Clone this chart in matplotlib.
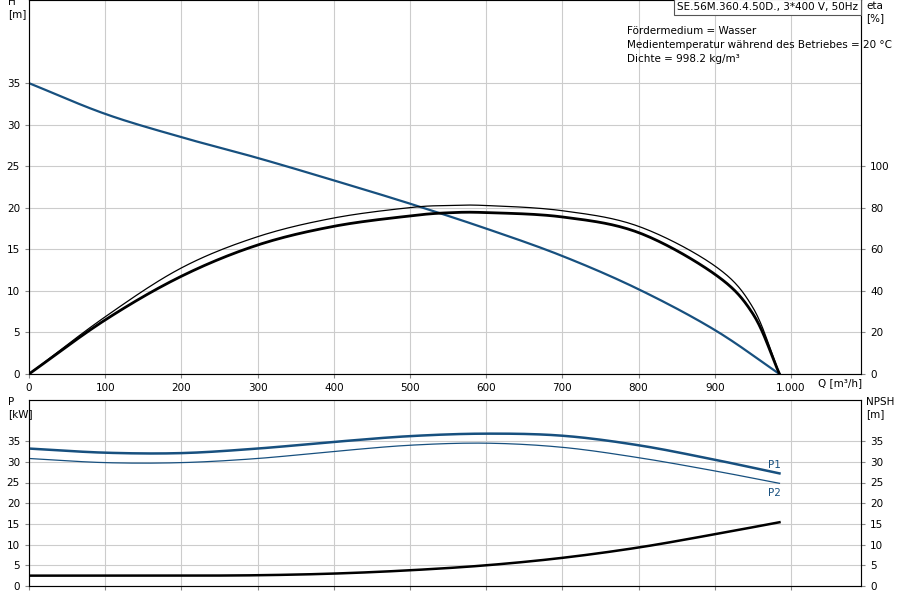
import matplotlib
matplotlib.use("Agg")
import matplotlib.pyplot as plt
import numpy as np

q_h = [0, 100, 200, 300, 400, 500, 600, 700, 800, 900, 985]
h = [35, 31.3, 28.5, 26, 23.3, 20.5, 17.5, 14.2, 10.2, 5.3, 0]
q_eta = [0, 100, 200, 300, 400, 500, 550, 600, 700, 800, 900, 950, 985]
eta_tot = [0, 26, 47, 62, 71, 76, 77.5, 77.6, 75.5, 68, 48, 29, 0]
eta_pump = [0, 27.5, 51, 66, 75, 80, 81, 81, 78.5, 71, 52, 32, 0]
q_p = [0, 100, 200, 300, 400, 500, 600, 700, 800, 900, 985]
p1 = [33.2, 32.2, 32.1, 33.2, 34.8, 36.2, 36.8, 36.3, 34.0, 30.5, 27.2]
p2 = [30.8, 29.8, 29.8, 30.8, 32.5, 34.0, 34.5, 33.5, 31.0, 27.8, 24.8]
q_n = [0, 100, 200, 300, 400, 500, 600, 700, 800, 900, 985]
npsh = [2.5, 2.5, 2.5, 2.6, 3.0, 3.8, 5.0, 6.8, 9.3, 12.5, 15.4]

def smooth(x, y, n=20):
    x = np.asarray(x, float); y = np.asarray(y, float)
    P = np.column_stack([x, y])
    P = np.vstack([2*P[0]-P[1], P, 2*P[-1]-P[-2]])
    out = []
    t = np.linspace(0, 1, n, endpoint=False)[:, None]
    for i in range(1, len(P)-2):
        p0, p1_, p2_, p3 = P[i-1], P[i], P[i+1], P[i+2]
        seg = 0.5*((2*p1_) + (-p0+p2_)*t + (2*p0-5*p1_+4*p2_-p3)*t**2 + (-p0+3*p1_-3*p2_+p3)*t**3)
        out.append(seg)
    out.append(P[-2][None, :])
    o = np.vstack(out)
    return o[:, 0], o[:, 1]

blue = "#17507f"
fs = 7.5
fig = plt.figure(figsize=(9, 6), dpi=100)
ax1 = fig.add_axes([29/900, 1-374/600, 832/900, 374/600])
ax2 = fig.add_axes([29/900, 1-586/600, 832/900, 186/600])

for ax in (ax1, ax2):
    ax.set_xlim(0, 1092)
    ax.set_xticks(range(0, 1001, 100))
    ax.grid(True, color="#cccccc", lw=0.8)
    ax.tick_params(labelsize=fs, length=3, color="#888888")
    for s in ax.spines.values():
        s.set_color("#888888")

ax1.set_ylim(0, 374/8.31)
ax1.set_yticks(range(0, 36, 5))
ax1.set_xticklabels(["0", "100", "200", "300", "400", "500", "600", "700", "800", "900", "1.000"])
ax1e = ax1.twinx()
ax1e.set_ylim(0, 374/2.08)
ax1e.set_yticks(range(0, 101, 20))
ax1e.tick_params(labelsize=fs, length=3, color="#888888")
ax1e.set_zorder(ax1.get_zorder() + 1)

x, y = smooth(q_h, h); ax1.plot(x, y, color=blue, lw=1.6)
x, y = smooth(q_eta, eta_tot); ax1e.plot(x, y, color="black", lw=2)
x, y = smooth(q_eta, eta_pump); ax1e.plot(x, y, color="black", lw=0.9)

ax2.set_ylim(0, 186/4.14)
ax2.set_yticks(range(0, 36, 5))
ax2.set_xticklabels([])
ax2n = ax2.twinx()
ax2n.set_ylim(0, 186/4.14)
ax2n.set_yticks(range(0, 36, 5))
ax2n.tick_params(labelsize=fs, length=3, color="#888888")
x, y = smooth(q_p, p1); ax2.plot(x, y, color=blue, lw=1.8)
x, y = smooth(q_p, p2); ax2.plot(x, y, color=blue, lw=0.9)
x, y = smooth(q_n, npsh); ax2n.plot(x, y, color="black", lw=1.8)
ax2.text(q_p[-1]-15, p1[-1]+0.8, "P1", fontsize=fs, color=blue, ha="left", va="bottom")
ax2.text(q_p[-1]-15, p2[-1]-1.2, "P2", fontsize=fs, color=blue, ha="left", va="top")

fig.text(8/900, 1-8/600, "H\n[m]", fontsize=fs, va="center", ha="left", linespacing=1.3)
fig.text(866/900, 1-12/600, "eta\n[%]", fontsize=fs, va="center", ha="left", linespacing=1.3)
fig.text(818/900, 1-383/600, "Q [m³/h]", fontsize=fs, va="center", ha="left")
fig.text(8/900, 1-408/600, "P\n[kW]", fontsize=fs, va="center", ha="left", linespacing=1.3)
fig.text(866/900, 1-408/600, "NPSH\n[m]", fontsize=fs, va="center", ha="left", linespacing=1.3)
fig.text(627/900, 1-45/600, "Fördermedium = Wasser\nMedientemperatur während des Betriebes = 20 °C\nDichte = 998.2 kg/m³",
         fontsize=fs, va="center", ha="left", linespacing=1.5)
fig.text(858/900, 1-7/600, "SE.56M.360.4.50D., 3*400 V, 50Hz", fontsize=fs, ha="right", va="center",
         bbox=dict(boxstyle="square,pad=0.3", fc="white", ec="#555555", lw=0.8))

fig.savefig("out.png", dpi=100)
